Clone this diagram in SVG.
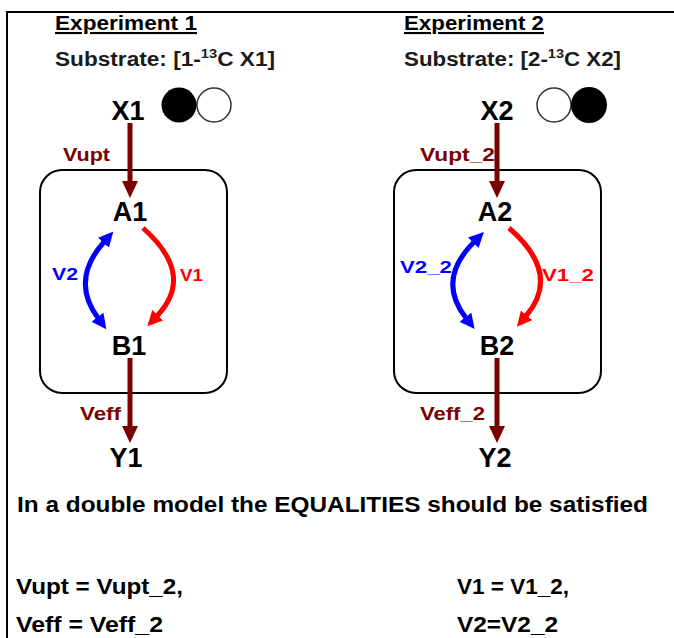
<svg xmlns="http://www.w3.org/2000/svg" width="674" height="638" viewBox="0 0 674 638">
<style>
text{font-family:"Liberation Sans",Arial,sans-serif;font-weight:bold}
.hd{font-size:21px;fill:#000}
.sub{font-size:20px;fill:#1a1a1a}
.node{font-size:27px;fill:#000;text-anchor:middle}
.flux{font-size:18px;fill:#7b0000}
.blue{font-size:17px;fill:#0000ff}
.red{font-size:17px;fill:#ff0000}
.eq{font-size:22px;fill:#000}
.box{fill:none;stroke:#000;stroke-width:2}
.dr{stroke:#7b0000;stroke-width:5;fill:none}
.rc{stroke:#ff0000;stroke-width:5;fill:none}
.bc{stroke:#0000ff;stroke-width:5;fill:none}
</style>
<defs>
<marker id="mDR" markerUnits="userSpaceOnUse" markerWidth="17" markerHeight="16" viewBox="0 0 17 16" refX="0" refY="8" orient="auto"><path d="M0,0 L17,8 L0,16 z" fill="#7b0000"/></marker>
<marker id="mR" markerUnits="userSpaceOnUse" markerWidth="15" markerHeight="15" viewBox="0 0 15 15" refX="1" refY="7.5" orient="auto-start-reverse"><path d="M0,0 L15,7.5 L0,15 z" fill="#ff0000"/></marker>
<marker id="mB" markerUnits="userSpaceOnUse" markerWidth="15" markerHeight="15" viewBox="0 0 15 15" refX="1" refY="7.5" orient="auto-start-reverse"><path d="M0,0 L15,7.5 L0,15 z" fill="#0000ff"/></marker>
</defs>
<rect x="0" y="0" width="674" height="638" fill="#ffffff"/>
<path d="M7,638 L7,12 L674,12" fill="none" stroke="#000" stroke-width="2"/>

<g id="exp1-header">
<text class="hd" x="55" y="30" textLength="142" lengthAdjust="spacingAndGlyphs" text-decoration="underline">Experiment 1</text>
<text class="sub" x="55" y="66" textLength="220" lengthAdjust="spacingAndGlyphs">Substrate: [1-<tspan font-size="13" dy="-8">13</tspan><tspan dy="8">C X1]</tspan></text>
</g>
<g id="exp2-header">
<text class="hd" x="404" y="30" textLength="140" lengthAdjust="spacingAndGlyphs" text-decoration="underline">Experiment 2</text>
<text class="sub" x="404" y="66" textLength="217" lengthAdjust="spacingAndGlyphs">Substrate: [2-<tspan font-size="13" dy="-8">13</tspan><tspan dy="8">C X2]</tspan></text>
</g>

<g id="box1"><rect class="box" x="40" y="170" width="187" height="223" rx="22"/></g>
<g id="box2"><rect class="box" x="394" y="170" width="207" height="223" rx="22"/></g>

<g id="X1">
<text class="node" x="128" y="120">X1</text>
<circle cx="214" cy="105" r="17" fill="#fff" stroke="#333" stroke-width="1.5"/>
<circle cx="179" cy="105" r="17.5" fill="#000"/>
</g>
<g id="X2">
<text class="node" x="497" y="120">X2</text>
<circle cx="554" cy="105" r="17" fill="#fff" stroke="#333" stroke-width="1.5"/>
<circle cx="589" cy="105" r="18" fill="#000"/>
</g>
<g id="A1"><text class="node" x="130" y="221">A1</text></g>
<g id="B1"><text class="node" x="129" y="355">B1</text></g>
<g id="Y1"><text class="node" x="126" y="467">Y1</text></g>
<g id="A2"><text class="node" x="495" y="221">A2</text></g>
<g id="B2"><text class="node" x="497" y="355">B2</text></g>
<g id="Y2"><text class="node" x="495" y="467">Y2</text></g>

<g id="connectors">
<line class="dr" x1="130" y1="123" x2="130" y2="181" marker-end="url(#mDR)"/>
<line class="dr" x1="130" y1="358" x2="130" y2="426" marker-end="url(#mDR)"/>
<path class="rc" d="M143,228 Q196,275 157,316" marker-end="url(#mR)"/>
<path class="bc" d="M104,242 Q70,280 98,318" marker-start="url(#mB)" marker-end="url(#mB)"/>
<line class="dr" x1="497" y1="123" x2="497" y2="181" marker-end="url(#mDR)"/>
<line class="dr" x1="497" y1="358" x2="497" y2="426" marker-end="url(#mDR)"/>
<path class="rc" d="M509,228 Q562,274 526,316" marker-end="url(#mR)"/>
<path class="bc" d="M474,242 Q436,280 466,318" marker-start="url(#mB)" marker-end="url(#mB)"/>
</g>

<g id="flux-labels">
<text class="flux" x="63" y="161" textLength="47" lengthAdjust="spacingAndGlyphs">Vupt</text>
<text class="flux" x="80" y="420" textLength="41" lengthAdjust="spacingAndGlyphs">Veff</text>
<text class="blue" x="52" y="280" textLength="26" lengthAdjust="spacingAndGlyphs">V2</text>
<text class="red" x="180" y="281" textLength="23" lengthAdjust="spacingAndGlyphs">V1</text>
<text class="flux" x="420" y="161" textLength="75" lengthAdjust="spacingAndGlyphs">Vupt_2</text>
<text class="flux" x="420" y="420" textLength="65" lengthAdjust="spacingAndGlyphs">Veff_2</text>
<text class="blue" x="400" y="273" textLength="52" lengthAdjust="spacingAndGlyphs">V2_2</text>
<text class="red" x="542" y="281" textLength="52" lengthAdjust="spacingAndGlyphs">V1_2</text>
</g>

<g id="equalities">
<text class="eq" x="17" y="512" textLength="631" lengthAdjust="spacingAndGlyphs">In a double model the EQUALITIES should be satisfied</text>
<text class="eq" x="16" y="594" textLength="167" lengthAdjust="spacingAndGlyphs">Vupt = Vupt_2,</text>
<text class="eq" x="16" y="632" textLength="147" lengthAdjust="spacingAndGlyphs">Veff = Veff_2</text>
<text class="eq" x="457" y="594" textLength="112" lengthAdjust="spacingAndGlyphs">V1 = V1_2,</text>
<text class="eq" x="457" y="632" textLength="101" lengthAdjust="spacingAndGlyphs">V2=V2_2</text>
</g>
</svg>
